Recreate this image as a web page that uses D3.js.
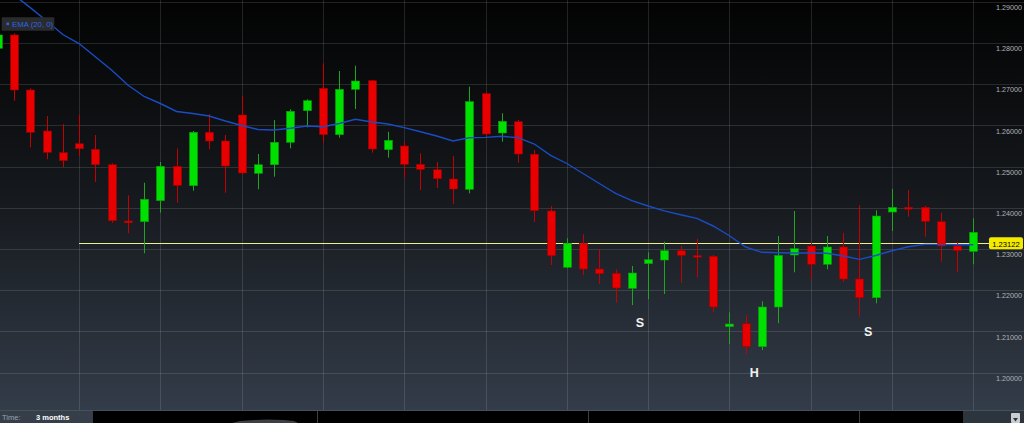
<!DOCTYPE html>
<html><head><meta charset="utf-8">
<script src="https://cdn.jsdelivr.net/npm/d3@7"></script>
<style>html,body{margin:0;padding:0;background:#000;overflow:hidden}svg{display:block}</style>
</head><body>
<svg id="chart" width="1024" height="423"></svg>
<script>
// ---- data ----
const candleIndex = [-1,0,1,2,3,4,5,6,7,8,9,10,11,12,13,14,15,16,17,18,19,20,21,22,23,24,25,26,27,28,29,30,31,32,33,34,35,36,37,38,39,40,41,42,43,44,45,46,47,48,49,50,51,52,53,54,55,56,57,58,59];
const openPrices  = [1.27869,1.28192,1.26857,1.25861,1.25335,1.25553,1.25417,1.25043,1.23677,1.23660,1.24170,1.25005,1.24534,1.25830,1.25619,1.26250,1.24835,1.25043,1.25587,1.26354,1.26898,1.25772,1.26874,1.27082,1.25408,1.25497,1.25053,1.24922,1.24696,1.24446,1.26767,1.25813,1.26087,1.25296,1.23920,1.22553,1.23136,1.22512,1.22408,1.22043,1.22641,1.22730,1.22956,1.22844,1.22820,1.21111,1.21184,1.20626,1.21590,1.22852,1.23070,1.22626,1.23046,1.22269,1.21815,1.23895,1.24009,1.24009,1.23660,1.23070,1.22941];
const highPrices  = [1.28313,1.28233,1.26898,1.26225,1.26031,1.26250,1.25764,1.25077,1.24301,1.24607,1.25109,1.25442,1.25861,1.26274,1.25764,1.26711,1.25303,1.26128,1.26388,1.26631,1.27505,1.27318,1.27446,1.27099,1.25844,1.25602,1.25320,1.25109,1.25255,1.26937,1.26815,1.26291,1.26128,1.25400,1.24041,1.23257,1.23354,1.22990,1.22505,1.22585,1.22917,1.23175,1.23077,1.23247,1.22852,1.21461,1.21388,1.21728,1.23313,1.23920,1.23143,1.23313,1.23386,1.24065,1.23937,1.24454,1.24429,1.24048,1.23878,1.23175,1.23742];
const lowPrices   = [1.27827,1.26597,1.25466,1.25175,1.24980,1.25255,1.24624,1.23636,1.23378,1.22893,1.23878,1.24121,1.24412,1.25417,1.24364,1.24818,1.24446,1.24752,1.25442,1.25951,1.25577,1.25699,1.26395,1.25335,1.25213,1.24728,1.24429,1.24478,1.24090,1.24349,1.25723,1.25602,1.25092,1.23653,1.22609,1.22529,1.22366,1.22148,1.21694,1.21638,1.21776,1.21905,1.22179,1.22310,1.21461,1.20691,1.20441,1.20546,1.21194,1.22432,1.22269,1.22505,1.22196,1.21354,1.21679,1.23434,1.23781,1.23296,1.22689,1.22432,1.22626];
const closePrices = [1.28192,1.26857,1.25830,1.25344,1.25141,1.25432,1.25043,1.23684,1.23636,1.24204,1.25005,1.24543,1.25830,1.25619,1.25012,1.24842,1.25043,1.25587,1.26340,1.26597,1.25772,1.26874,1.27075,1.25425,1.25636,1.25053,1.24932,1.24704,1.24454,1.26573,1.25789,1.26097,1.25303,1.23927,1.22835,1.23136,1.22512,1.22398,1.22051,1.22415,1.22738,1.22956,1.22844,1.22803,1.21590,1.21177,1.20626,1.21590,1.22844,1.23005,1.22626,1.23046,1.22269,1.21815,1.23798,1.24009,1.23975,1.23670,1.23070,1.22956,1.23403];
const emaValues   = [1.29478,1.29162,1.28857,1.28539,1.28204,1.27985,1.27662,1.27342,1.26978,1.26699,1.26529,1.26335,1.26286,1.26225,1.26104,1.25995,1.25898,1.25886,1.25927,1.25983,1.25966,1.26043,1.26145,1.26080,1.26031,1.25942,1.25844,1.25740,1.25619,1.25699,1.25708,1.25733,1.25699,1.25546,1.25272,1.25073,1.24830,1.24587,1.24349,1.24170,1.24041,1.23924,1.23830,1.23742,1.23556,1.23320,1.23046,1.22917,1.22908,1.22900,1.22900,1.22893,1.22827,1.22747,1.22840,1.22956,1.23053,1.23111,1.23111,1.23102,1.23102];
const priceTicks = [1.20,1.21,1.22,1.23,1.24,1.25,1.26,1.27,1.28,1.29];
const gridIndices = [4,9,14,19,24,29,34,39,44,49,54,59];
const currentPrice = 1.23122;
const lineStartIndex = 4;
const annotationLabels = ["S","H","S"];
const annotationIndex = [38.5,45.53,52.54];
const annotationPrice = [1.21225,1.20005,1.20990];
const legendLabel = "EMA (20, 0)";
const timeLabel = "Time:";
const timeValue = "3 months";

// ---- layout ----
const W = 1024, H = 423, plotBottom = 410;
const svg = d3.select("#chart");
const x = d3.scaleLinear().domain([0, 59]).range([14, 973.3]);
const y = d3.scaleLinear().domain([1.19, 1.29]).range([413.7, 1.7]);

const defs = svg.append("defs");
const grad = defs.append("linearGradient").attr("id","bg").attr("x1",0).attr("y1",0).attr("x2",0).attr("y2",1);
grad.append("stop").attr("offset","0%").attr("stop-color","#030303");
grad.append("stop").attr("offset","45%").attr("stop-color","#14171b");
grad.append("stop").attr("offset","100%").attr("stop-color","#333c49");
defs.append("clipPath").attr("id","plotClip").append("rect").attr("x",0).attr("y",0).attr("width",W).attr("height",plotBottom);

svg.append("rect").attr("x",0).attr("y",0).attr("width",W).attr("height",plotBottom).attr("fill","url(#bg)");

const grid = svg.append("g").attr("clip-path","url(#plotClip)");
grid.selectAll("line.h").data(priceTicks).join("line")
  .attr("x1",0).attr("x2",W).attr("y1",d=>Math.round(y(d))+0.5).attr("y2",d=>Math.round(y(d))+0.5)
  .attr("stroke","rgba(255,255,255,0.12)").attr("stroke-width",1);
grid.selectAll("line.v").data(gridIndices).join("line")
  .attr("x1",d=>Math.round(x(d))+0.5).attr("x2",d=>Math.round(x(d))+0.5).attr("y1",0).attr("y2",plotBottom)
  .attr("stroke","rgba(255,255,255,0.12)").attr("stroke-width",1);

// price axis labels
const axis = d3.axisLeft(y).tickValues(priceTicks).tickFormat(d3.format(".5f")).tickSize(0).tickPadding(2);
const ag = svg.append("g").attr("transform","translate(1024,0)").call(axis);
ag.select(".domain").remove();
ag.selectAll("text").attr("fill","#aeb4bb").attr("font-family","Liberation Sans, Arial, sans-serif").attr("font-size","7.2px").attr("y",5.5).attr("dy","0.32em");

// horizontal current price line
const lineY = Math.round(y(currentPrice)) - 0.5;
svg.append("line").attr("x1",x(lineStartIndex)).attr("x2",989).attr("y1",lineY).attr("y2",lineY)
  .attr("stroke","#eeee8a").attr("stroke-width",1);

const candles = candleIndex.map((k,i)=>({k, o:openPrices[i], h:highPrices[i], l:lowPrices[i], c:closePrices[i]}));
const cg = svg.append("g").attr("clip-path","url(#plotClip)");
const bw = 8;
cg.selectAll("line.wick").data(candles).join("line")
  .attr("x1",d=>Math.round(x(d.k))+0.5).attr("x2",d=>Math.round(x(d.k))+0.5)
  .attr("y1",d=>y(d.h)).attr("y2",d=>y(d.l))
  .attr("stroke",d=>d.c>=d.o?"#1fa51f":"#c40000").attr("stroke-width",1);
cg.selectAll("rect.body").data(candles).join("rect")
  .attr("x",d=>Math.round(x(d.k))-bw/2+0.5).attr("width",bw)
  .attr("y",d=>Math.min(y(d.o),y(d.c))).attr("height",d=>Math.max(1.8,Math.abs(y(d.o)-y(d.c))))
  .attr("fill",d=>d.c>=d.o?"#00e000":"#e80000")
  .attr("stroke",d=>d.c>=d.o?"#0b9a0b":"#a00000").attr("stroke-width",0.6);

// EMA line
const emaData = candleIndex.map((k,i)=>({k, v:emaValues[i]}));
cg.append("path").datum(emaData)
  .attr("d", d3.line().x(d=>x(d.k)).y(d=>y(d.v)))
  .attr("fill","none").attr("stroke","#1a4cc4").attr("stroke-width",1.4);

// current price label
const py = y(currentPrice);
svg.append("rect").attr("x",989).attr("y",py-6.5).attr("width",34).attr("height",12).attr("rx",2).attr("fill","#f4ea00");
svg.append("text").attr("x",1006).attr("y",py).attr("dy","0.35em").attr("text-anchor","middle")
  .attr("font-family","Liberation Sans, Arial, sans-serif").attr("font-size","7.6px").attr("fill","#000").text(d3.format(".5f")(currentPrice));

// annotations
svg.append("g").selectAll("text").data(annotationLabels.map((t,i)=>({t,k:annotationIndex[i],p:annotationPrice[i]}))).join("text")
  .attr("x",d=>x(d.k)).attr("y",d=>y(d.p)).attr("dy","0.36em").attr("text-anchor","middle")
  .attr("font-family","Liberation Sans, Arial, sans-serif").attr("font-weight","bold").attr("font-size","12.5px")
  .attr("fill","#f2f2f2").text(d=>d.t);

// legend
svg.append("rect").attr("x",1.7).attr("y",17.3).attr("width",52.6).attr("height",13.4).attr("fill","#2a2b2d").attr("rx",1);
svg.append("rect").attr("x",6.5).attr("y",22.5).attr("width",2.6).attr("height",2.6).attr("fill","#2a63e0");
svg.append("text").attr("x",12).attr("y",24).attr("dy","0.35em").attr("font-family","Liberation Sans, Arial, sans-serif")
  .attr("font-size","7.8px").attr("fill","#2d66e6").text(legendLabel);

// bottom strip
svg.append("rect").attr("x",0).attr("y",plotBottom).attr("width",W).attr("height",H-plotBottom).attr("fill","#000");
svg.append("line").attr("x1",0).attr("x2",W).attr("y1",plotBottom+0.5).attr("y2",plotBottom+0.5).attr("stroke","#46505c");
svg.append("rect").attr("x",0).attr("y",plotBottom+1).attr("width",93).attr("height",H-plotBottom-1).attr("fill","#353e49");
svg.append("rect").attr("x",963).attr("y",plotBottom+1).attr("width",61).attr("height",H-plotBottom-1).attr("fill","#2c343e");
svg.selectAll("line.sep").data([317,588,859]).join("line").attr("x1",d=>d+0.5).attr("x2",d=>d+0.5).attr("y1",plotBottom+1).attr("y2",H)
  .attr("stroke","#3a3f46");
svg.append("path").attr("d","M232,423 L240,421 L254,420 L268,419.5 L284,420 L294,421 L298,423 Z").attr("fill","#3c3f44");
svg.append("rect").attr("x",1011).attr("y",413).attr("width",9).attr("height",10).attr("fill","#c9cdd2").attr("rx",1);
svg.append("path").attr("d","M1013,418 L1018,418 L1015.5,421.5 Z").attr("fill","#2c343e");
svg.append("text").attr("x",2).attr("y",417).attr("dy","0.35em").attr("font-family","Liberation Sans, Arial, sans-serif")
  .attr("font-size","7.5px").attr("fill","#9aa3ad").text(timeLabel);
svg.append("text").attr("x",36).attr("y",417).attr("dy","0.35em").attr("font-family","Liberation Sans, Arial, sans-serif")
  .attr("font-size","7.5px").attr("font-weight","bold").attr("fill","#ffffff").text(timeValue);
</script>
</body></html>
